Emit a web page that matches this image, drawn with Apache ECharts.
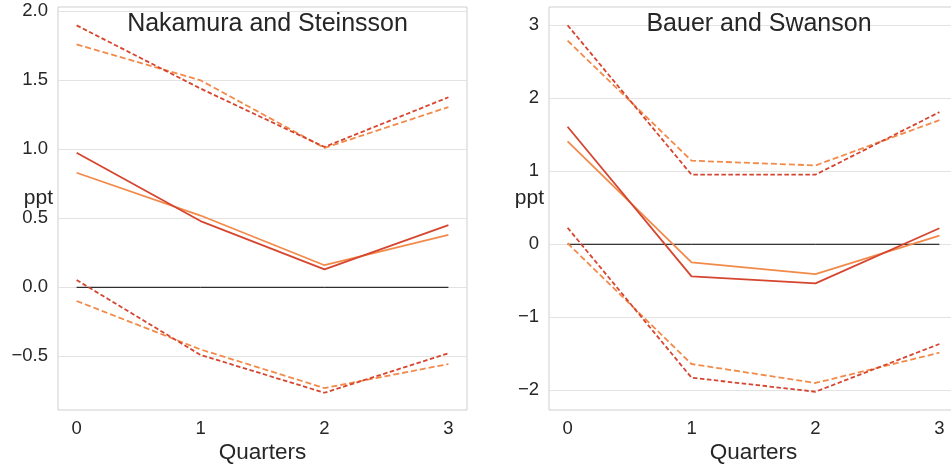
<!DOCTYPE html>
<html>
<head>
<meta charset="utf-8">
<script src="https://cdn.jsdelivr.net/npm/echarts@6/dist/echarts.min.js"></script>
<style>html,body{margin:0;padding:0;background:#fff;}#c{width:951px;height:467px;}</style>
</head>
<body>
<div id="c"></div>
<script>
var quarters = [0, 1, 2, 3];
var xTicks = [0, 1, 2, 3];
var zeroLine = [0, 0, 0, 0];

// Nakamura and Steinsson
var nsRedMid = [0.975, 0.48, 0.13, 0.45];
var nsRedUp = [1.898, 1.44, 1.017, 1.377];
var nsRedLo = [0.053, -0.49, -0.764, -0.478];
var nsOrgMid = [0.83, 0.52, 0.16, 0.379];
var nsOrgUp = [1.76, 1.50, 1.01, 1.306];
var nsOrgLo = [-0.099, -0.45, -0.73, -0.556];
var nsYTicks = [-0.5, 0.0, 0.5, 1.0, 1.5, 2.0];

// Bauer and Swanson
var bsRedMid = [1.61, -0.44, -0.535, 0.22];
var bsRedUp = [3.0, 0.953, 0.953, 1.81];
var bsRedLo = [0.227, -1.827, -2.02, -1.366];
var bsOrgMid = [1.41, -0.247, -0.41, 0.118];
var bsOrgUp = [2.79, 1.145, 1.08, 1.70];
var bsOrgLo = [0.014, -1.64, -1.90, -1.485];
var bsYTicks = [-2, -1, 0, 1, 2, 3];

var RED = '#d6452f', ORG = '#f28a4a';
var FONT = 'Liberation Sans, Arial, sans-serif';
var TXT = '#262626';

function pts(v) { return quarters.map(function (q, i) { return [q, v[i]]; }); }

function line(idx, vals, color, dash, w, z) {
  return {
    type: 'line', xAxisIndex: idx, yAxisIndex: idx, data: pts(vals),
    showSymbol: false, symbol: 'none', silent: true, z: z || 2,
    lineStyle: { color: color, width: w || 1.8, type: dash ? dash : 'solid' }
  };
}

function xAxis(idx) {
  return {
    type: 'value', gridIndex: idx, min: -0.15, max: 3.15,
    name: 'Quarters', nameLocation: 'middle', nameGap: 31, nameMoveOverlap: false,
    nameTextStyle: { fontSize: 22.5, color: TXT, fontFamily: FONT },
    axisLine: { show: false },
    axisTick: { show: false, customValues: xTicks },
    splitLine: { show: false },
    axisLabel: { customValues: xTicks, fontSize: 18.5, color: TXT, fontFamily: FONT, margin: 9,
      formatter: function (v) { return String(v); } }
  };
}

function yAxis(idx, min, max, ticks, dec) {
  return {
    type: 'value', gridIndex: idx, min: min, max: max,
    name: 'ppt', nameLocation: 'middle', nameRotate: 0, nameGap: 5, nameMoveOverlap: false,
    nameTextStyle: { fontSize: 21, color: TXT, fontFamily: FONT, align: 'right', verticalAlign: 'bottom' },
    axisLine: { show: false },
    axisTick: { show: false, customValues: ticks },
    splitLine: { show: true, lineStyle: { color: '#e3e3e3', width: 1 } },
    axisLabel: { customValues: ticks, fontSize: 18.5, color: TXT, fontFamily: FONT, margin: 10,
      formatter: function (v) {
        var s = dec ? v.toFixed(1) : String(Math.round(v));
        return s.replace('-', '\u2212');
      } }
  };
}

var chart = echarts.init(document.getElementById('c'), null, { renderer: 'canvas' });
chart.setOption({
  animation: false,
  backgroundColor: '#ffffff',
  title: [
    { text: 'Nakamura and Steinsson', left: 262.5, top: 7, textAlign: 'center',
      textStyle: { fontSize: 25, fontWeight: 'normal', color: TXT, fontFamily: FONT } },
    { text: 'Bauer and Swanson', left: 754, top: 7, textAlign: 'center',
      textStyle: { fontSize: 25, fontWeight: 'normal', color: TXT, fontFamily: FONT } }
  ],
  grid: [
    { left: 58, top: 7, width: 409, height: 403, show: true, borderColor: '#cfcfcf', borderWidth: 1,
      backgroundColor: 'transparent', containLabel: false, outerBoundsMode: 'none' },
    { left: 549, top: 7, width: 409, height: 403, show: true, borderColor: '#cfcfcf', borderWidth: 1,
      backgroundColor: 'transparent', containLabel: false, outerBoundsMode: 'none' }
  ],
  xAxis: [xAxis(0), xAxis(1)],
  yAxis: [yAxis(0, -0.889, 2.031, nsYTicks, true), yAxis(1, -2.27, 3.25, bsYTicks, false)],
  series: [
    line(0, zeroLine, '#000000', null, 1, 1),
    line(0, nsOrgUp, ORG, [6, 3]),
    line(0, nsOrgMid, ORG),
    line(0, nsOrgLo, ORG, [6, 3]),
    line(0, nsRedUp, RED, [4.5, 2.5]),
    line(0, nsRedMid, RED),
    line(0, nsRedLo, RED, [4.5, 2.5]),
    line(1, zeroLine, '#000000', null, 1, 1),
    line(1, bsOrgUp, ORG, [6, 3]),
    line(1, bsOrgMid, ORG),
    line(1, bsOrgLo, ORG, [6, 3]),
    line(1, bsRedUp, RED, [4.5, 2.5]),
    line(1, bsRedMid, RED),
    line(1, bsRedLo, RED, [4.5, 2.5])
  ]
});
</script>
</body>
</html>
